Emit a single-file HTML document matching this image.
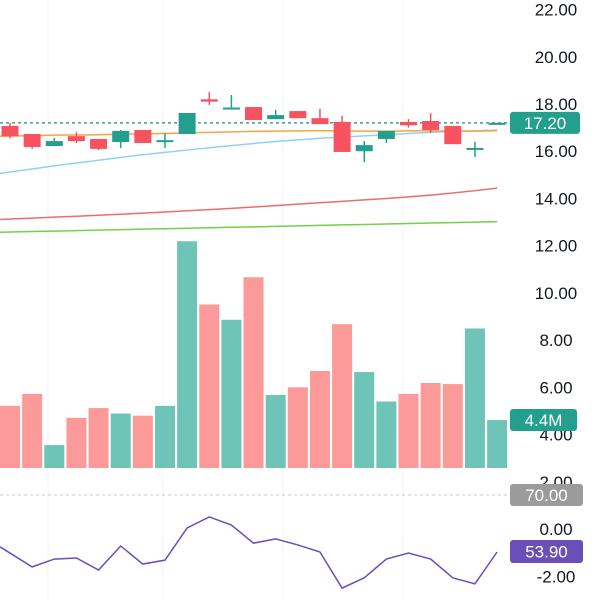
<!DOCTYPE html>
<html><head><meta charset="utf-8"><style>
html,body{margin:0;padding:0;background:#fff;width:600px;height:600px;overflow:hidden}
svg{display:block}
text{font-family:"Liberation Sans",sans-serif}
</style></head><body>
<svg id="c" width="600" height="600"></svg>
<script>
const opens=[17.07,16.73,16.22,16.64,16.52,16.39,16.9,16.47,16.73,18.2,17.85,17.87,17.36,17.7,17.4,17.24,16.0,16.52,17.24,17.28,17.07,16.14,17.2];
const closes=[16.64,16.18,16.43,16.43,16.1,16.86,16.35,16.47,17.62,18.1,17.85,17.32,17.53,17.4,17.15,15.97,16.26,16.86,17.1,16.9,16.3,16.14,17.2];
const highs=[17.2,16.73,16.56,16.81,16.52,16.9,16.9,16.77,17.62,18.5,18.38,17.87,17.75,17.7,17.8,17.5,16.43,16.86,17.36,17.62,17.07,16.4,17.2];
const lows=[16.55,16.1,16.22,16.35,16.05,16.14,16.35,16.14,16.73,17.96,17.85,17.32,17.36,17.4,17.15,15.97,15.54,16.35,17.0,16.77,16.3,15.75,17.2];
const volumes=[5.7,6.8,2.1,4.6,5.5,5.0,4.8,5.7,20.8,15.0,13.6,17.5,6.7,7.4,8.9,13.2,8.8,6.1,6.8,7.8,7.7,12.8,4.4];
const maOrange=[16.64,16.66,16.68,16.69,16.7,16.72,16.74,16.75,16.78,16.8,16.82,16.84,16.85,16.86,16.87,16.86,16.85,16.85,16.86,16.86,16.85,16.85,16.86];
const maBlue=[15.12,15.25,15.38,15.5,15.62,15.74,15.85,15.95,16.05,16.15,16.24,16.33,16.41,16.48,16.55,16.6,16.65,16.7,16.75,16.8,16.84,16.87,16.9];
const maRed=[13.13,13.17,13.21,13.25,13.29,13.33,13.38,13.43,13.48,13.53,13.58,13.64,13.7,13.76,13.82,13.88,13.94,14.0,14.07,14.14,14.23,14.33,14.44];
const maGreen=[12.58,12.6,12.62,12.64,12.66,12.68,12.7,12.72,12.74,12.76,12.78,12.8,12.82,12.84,12.86,12.88,12.9,12.92,12.94,12.96,12.98,13.0,13.02];
const rsi=[53.6,49.7,51.9,52.2,48.8,55.6,50.5,51.6,60.7,63.8,61.5,56.4,57.6,55.9,53.9,43.7,46.6,51.9,53.6,51.9,46.6,44.9,53.9];
const priceTicks=["22.00","20.00","18.00","16.00","14.00","12.00","10.00","8.00","6.00","4.00","2.00","0.00","-2.00"];
const tickVals=[22,20,18,16,14,12,10,8,6,4,2,0,-2];
const lastPrice=17.2;

const NS="http://www.w3.org/2000/svg";
const svg=document.getElementById('c');
function el(t,a,p){const e=document.createElementNS(NS,t);for(const k in a)e.setAttribute(k,a[k]);(p||svg).appendChild(e);return e;}
const xC=i=>10+22.14*i;
const yP=p=>104+(18-p)*23.62;
const yV=v=>468-v*10.9;
const yR=v=>495+(70-v)*3.54;
const UP="#22a08d",DN="#f7525f";

[48,163,283,403].forEach((x,i)=>{const g=el('line',{x1:x,y1:0,x2:x,y2:600,stroke:'#f2f3f5','stroke-width':1});
});

tickVals.forEach((v,i)=>{
 const t=el('text',{x:556,y:yP(v)+6,'text-anchor':'middle','font-size':17,fill:'#131722'});
 
 t.textContent=priceTicks[i];
});

// lines: first segment extended to left edge
function line(arr,color,fy,name){
 const pts=arr.map((v,i)=>[xC(i),fy(v)]);
 const s=(pts[1][1]-pts[0][1])/(pts[1][0]-pts[0][0]);
 pts.unshift([0,pts[0][1]-s*pts[0][0]]);
 const l=el('polyline',{points:pts.map(p=>p.join(',')).join(' '),fill:'none',stroke:color,'stroke-width':1.5});
 
}
line(maGreen,'#72cf4f',yP,'ma-green-line');
line(maRed,'#ef6b6b',yP,'ma-red-line');
line(maBlue,'#8fd3f0',yP,'ma-blue-line');
line(maOrange,'#f5a542',yP,'ma-orange-line');

volumes.forEach((v,i)=>{
 const up=closes[i]>=opens[i];
 const r=el('rect',{x:xC(i)-10,y:yV(v),width:20,height:v*10.9,fill:up?'#6dc4b7':'#fb9a98'});
 
});

const pl=el('line',{x1:0,y1:yP(lastPrice),x2:510,y2:yP(lastPrice),stroke:'#1e8c7a','stroke-width':1.2,'stroke-dasharray':'3,3'});


opens.forEach((o,i)=>{
 const c=closes[i],up=c>=o,col=up?UP:DN,x=xC(i);
 const w=el('line',{x1:x,y1:yP(highs[i]),x2:x,y2:yP(lows[i]),stroke:col,'stroke-width':1.5});
 
 const top=yP(Math.max(o,c)),h=Math.max(2,Math.abs(yP(o)-yP(c)));
 const b=el('rect',{x:x-8.5,y:top,width:17,height:h,fill:col});
 
});

const r70=el('line',{x1:0,y1:yR(70),x2:510,y2:yR(70),stroke:'#c8c8c8','stroke-width':1,'stroke-dasharray':'3,3'});

line(rsi,'#6a4fb8',yR,'rsi-line');

function label(y,h,w,color,txt,name){
 const g=el('g',{});
 
 el('rect',{x:510,y:y,width:w,height:h,rx:3,fill:color},g);
 const t=el('text',{x:510+w/2,y:y+h/2+6,'text-anchor':'middle','font-size':17,fill:'#fff'},g);
 t.textContent=txt;
}
label(yP(lastPrice)-11,22,70,'#22a08d',lastPrice.toFixed(2),'last-price-label');
label(yV(volumes[volumes.length-1])-11,22,67,'#22a08d',volumes[volumes.length-1]+'M','volume-label');
label(484,22,73,'#9b9b9b','70.00','rsi-70-label');
label(yR(rsi[rsi.length-1])-12,23,73,'#6a4fb8',rsi[rsi.length-1].toFixed(2),'rsi-value-label');
</script>
</body></html>
